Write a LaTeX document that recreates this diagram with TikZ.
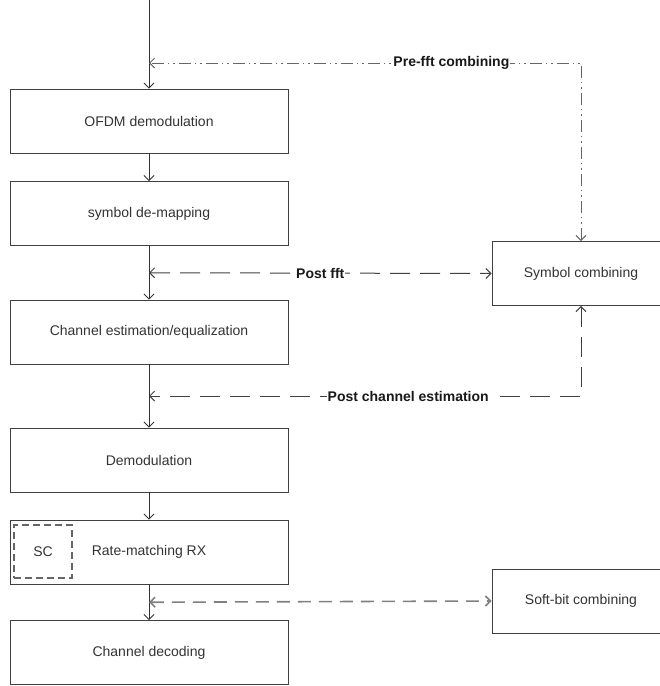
\documentclass[tikz,border=0pt]{standalone}
\usepackage{fontspec}
\setmainfont{Liberation Sans}
\usetikzlibrary{arrows.meta,calc}

\begin{document}
\begin{tikzpicture}[x=1pt,y=-1pt,
  >={Straight Barb[length=5pt,width=10pt]},
  blk/.style={draw=black!75,line width=0.9pt,minimum width=278pt,minimum height=64pt,
    font=\fontsize{14}{16}\selectfont,text=black!80},
  side/.style={blk,minimum width=178pt},
  flow/.style={draw=black!80,line width=0.9pt,->},
  lbl/.style={fill=white,inner sep=1pt,font=\fontsize{14}{16}\selectfont\bfseries,text=black!90},
  prefft/.style={draw=black!60,line width=1pt,<->,
    dash pattern=on 12pt off 4pt on 1.5pt off 4pt on 1.5pt off 4pt},
  longdash/.style={draw=black!75,line width=1pt,<->,dash pattern=on 20pt off 10pt},
  softdash/.style={draw=black!50,line width=1.6pt,<->,dash pattern=on 13pt off 8pt}
]
\useasboundingbox (0,0) rectangle (660,686);

% receive chain
\coordinate (src) at (149,0);
\node[blk] (ofdm) at (149,121) {OFDM demodulation};
\node[blk] (demap) at (149,213.5) {symbol de-mapping};
\node[blk] (chest) at (149,332) {Channel estimation/equalization};
\node[blk] (demod) at (149,460) {Demodulation};
\node[blk] (ratematch) at (149,552) {Rate-matching RX};
\node[blk] (decode) at (149,652.5) {Channel decoding};
\node[draw=black!60,line width=1.2pt,dash pattern=on 7pt off 4pt,minimum width=58pt,minimum height=53pt,
  font=\fontsize{14}{16}\selectfont,text=black!80] (sc) at (43,551.5) {SC};

% combining blocks
\node[side] (symcomb) at (581,273.5) {Symbol combining};
\node[side] (softbit) at (581,601) {Soft-bit combining};

\coordinate (pre) at (149,63);
\coordinate (pf) at ($(demap.south)!0.5!(chest.north)$);
\coordinate (pce) at ($(chest.south)!0.5!(demod.north)$);
\coordinate (sb) at ($(ratematch.south)!0.5!(decode.north)$);

\draw[flow] (src) -- (ofdm);
\draw[flow] (ofdm) -- (demap);
\draw[flow] (demap) -- (chest);
\draw[flow] (chest) -- (demod);
\draw[flow] (demod) -- (ratematch);
\draw[flow] (ratematch) -- (decode);

\draw[prefft] (symcomb.north) |- node[lbl,pos=0.65] {Pre-fft combining} (pre);
\draw[longdash] (pf) -- node[lbl] {Post fft} (symcomb.west);
\draw[longdash] (symcomb.south) |- node[lbl,pos=0.7] {Post channel estimation} (pce);
\draw[softdash] (sb) -- (softbit.west);
\end{tikzpicture}
\end{document}
